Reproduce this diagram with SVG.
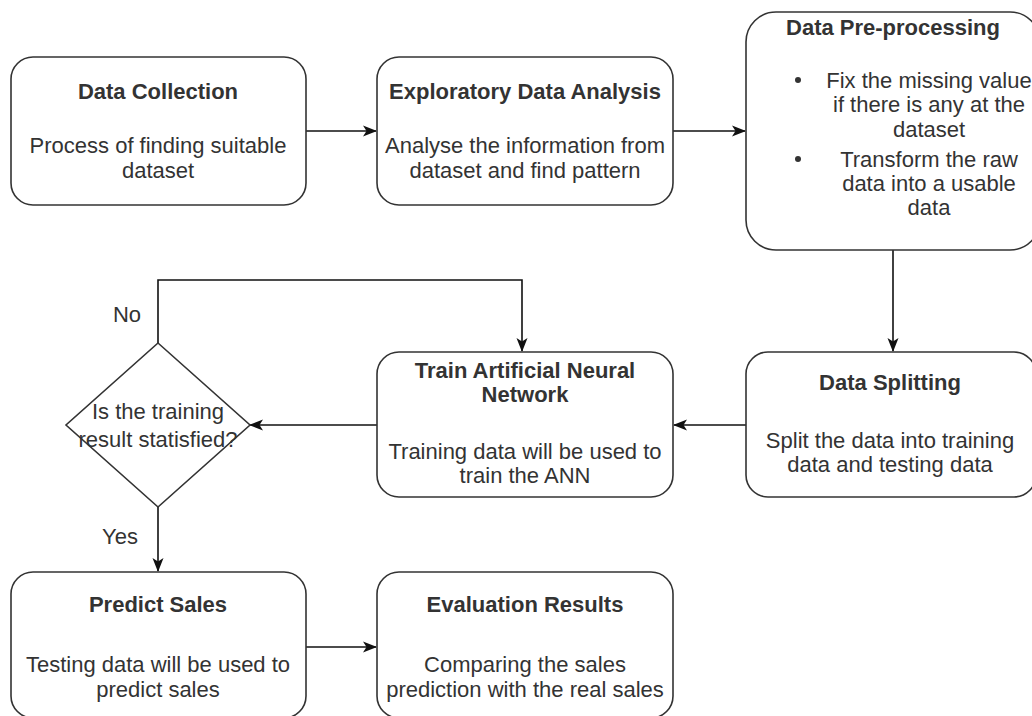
<svg xmlns="http://www.w3.org/2000/svg" width="1032" height="716" viewBox="0 0 1032 716">
<style>
.box{fill:#fff;stroke:#333;stroke-width:1.6}
.t{font-family:"Liberation Sans",Arial,sans-serif;font-size:22px;fill:#333;text-anchor:middle}
.b{font-weight:bold}
.c{fill:none;stroke:#111;stroke-width:1.6}
</style>
<defs>
<marker id="ah" markerUnits="userSpaceOnUse" markerWidth="14" markerHeight="14" viewBox="0 0 14 14" refX="13" refY="7" orient="auto">
<path d="M0,1.5 L14,7 L0,12.5 L3.5,7 z" fill="#111"/>
</marker>
</defs>
<rect width="1032" height="716" fill="#fff"/>
<g id="connectors">
<path class="c" d="M306,131 H376" marker-end="url(#ah)"/>
<path class="c" d="M673,131 H745" marker-end="url(#ah)"/>
<path class="c" d="M893,250 V351" marker-end="url(#ah)"/>
<path class="c" d="M746,425 H674" marker-end="url(#ah)"/>
<path class="c" d="M377,425 H250" marker-end="url(#ah)"/>
<path class="c" d="M158,343 V280 H522 V351" marker-end="url(#ah)"/>
<path class="c" d="M158,507 V571" marker-end="url(#ah)"/>
<path class="c" d="M306,647 H376" marker-end="url(#ah)"/>
</g>
<g id="data-collection">
<rect class="box" x="11" y="57" width="295" height="148" rx="22"/>
<text class="t b" x="158" y="99">Data Collection</text>
<text class="t" x="158" y="153">Process of finding suitable</text>
<text class="t" x="158" y="178">dataset</text>
</g>
<g id="eda">
<rect class="box" x="377" y="57" width="296" height="148" rx="22"/>
<text class="t b" x="525" y="99">Exploratory Data Analysis</text>
<text class="t" x="525" y="153">Analyse the information from</text>
<text class="t" x="525" y="178">dataset and find pattern</text>
</g>
<g id="preprocessing">
<rect class="box" x="746" y="12" width="294" height="238" rx="30"/>
<text class="t b" x="893" y="35">Data Pre-processing</text>
<circle cx="798" cy="80" r="3" fill="#333"/>
<text class="t" x="929" y="88">Fix the missing value</text>
<text class="t" x="929" y="112">if there is any at the</text>
<text class="t" x="929" y="137">dataset</text>
<circle cx="798" cy="159" r="3" fill="#333"/>
<text class="t" x="929" y="167">Transform the raw</text>
<text class="t" x="929" y="191">data into a usable</text>
<text class="t" x="929" y="215">data</text>
</g>
<g id="data-splitting">
<rect class="box" x="746" y="352" width="290" height="145" rx="22"/>
<text class="t b" x="890" y="390">Data Splitting</text>
<text class="t" x="890" y="448">Split the data into training</text>
<text class="t" x="890" y="472">data and testing data</text>
</g>
<g id="train-ann">
<rect class="box" x="377" y="352" width="296" height="145" rx="22"/>
<text class="t b" x="525" y="378">Train Artificial Neural</text>
<text class="t b" x="525" y="402">Network</text>
<text class="t" x="525" y="459">Training data will be used to</text>
<text class="t" x="525" y="483">train the ANN</text>
</g>
<g id="decision">
<path class="box" d="M158,343 L250,425 L158,507 L66,425 Z"/>
<text class="t" x="158" y="419">Is the training</text>
<text class="t" x="158" y="447">result statisfied?</text>
</g>
<g id="labels">
<text class="t" x="127" y="322">No</text>
<text class="t" x="120" y="544">Yes</text>
</g>
<g id="predict-sales">
<rect class="box" x="11" y="572" width="295" height="146" rx="22"/>
<text class="t b" x="158" y="612">Predict Sales</text>
<text class="t" x="158" y="672">Testing data will be used to</text>
<text class="t" x="158" y="697">predict sales</text>
</g>
<g id="evaluation">
<rect class="box" x="377" y="572" width="296" height="146" rx="22"/>
<text class="t b" x="525" y="612">Evaluation Results</text>
<text class="t" x="525" y="672">Comparing the sales</text>
<text class="t" x="525" y="697">prediction with the real sales</text>
</g>
</svg>
